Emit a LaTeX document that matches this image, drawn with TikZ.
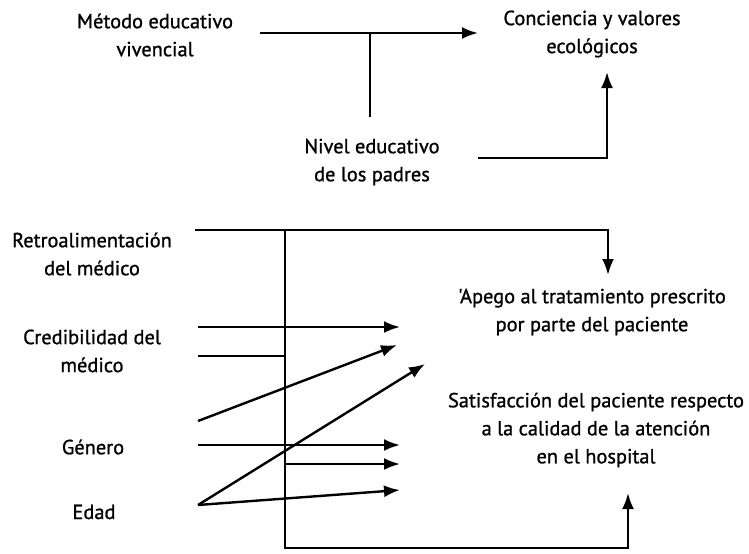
\documentclass[tikz,border=0pt]{standalone}
\usepackage{fontspec}
\newfontfamily\lblfont{PT Sans}[FakeBold=1]
\usetikzlibrary{arrows.meta}
\begin{document}
\begin{tikzpicture}[x=0.75pt,y=-0.75pt,
  lbl/.style={align=center,font=\lblfont\fontsize{15.3pt}{21pt}\selectfont,inner sep=0pt},
  ln/.style={line width=1.8pt},
  ar/.style={line width=1.8pt,-{Latex[length=12pt,width=9pt]}}]
\useasboundingbox (0,0) rectangle (749,553);
% labels
\node[lbl] (metodo) at (155,35) {Método educativo\\vivencial};
\node[lbl] (conc) at (592,34) {Conciencia y valores\\ecológicos};
\node[lbl] (nivel) at (372,162) {Nivel educativo\\de los padres};
\node[lbl] (retro) at (92,254) {Retroalimentación\\del médico};
\node[lbl] (cred) at (92,351) {Credibilidad del\\médico};
\node[lbl] (gen) at (93,447) {Género};
\node[lbl] (edad) at (94,512) {Edad};
\node[lbl] (apego) at (592,312) {'Apego al tratamiento prescrito\\por parte del paciente};
\node[lbl] (satis) at (596,430) {Satisfacción del paciente respecto\\a la calidad de la atención\\en el hospital};
% coordinates
\coordinate (a1) at (260,33); \coordinate (a2) at (478,33);
\coordinate (v1) at (370,33); \coordinate (v2) at (370,117);
\coordinate (n1) at (478,158); \coordinate (n2) at (607,72);
\coordinate (r1) at (195,230); \coordinate (r2) at (608,275);
\coordinate (m1) at (285,230); \coordinate (m2) at (285,548); \coordinate (m3) at (628,493);
\coordinate (c1) at (198,327); \coordinate (c2) at (400,327);
\coordinate (c3) at (198,356); \coordinate (c4) at (285,356);
\coordinate (d1) at (198,421); \coordinate (d2) at (397,345);
\coordinate (g1) at (198,445); \coordinate (g2) at (400,445);
\coordinate (h1) at (285,464); \coordinate (h2) at (400,464);
\coordinate (e0) at (198,505); \coordinate (e1) at (400,490); \coordinate (e2) at (425,364);
% connectors
\draw[ar] (a1) -- (a2);
\draw[ln] (v1) -- (v2);
\draw[ar] (n1) -| (n2);
\draw[ar] (r1) -| (r2);
\draw[ar] (m1) -- (m2) -| (m3);
\draw[ar] (c1) -- (c2);
\draw[ln] (c3) -- (c4);
\draw[ar] (d1) -- (d2);
\draw[ar] (g1) -- (g2);
\draw[ar] (h1) -- (h2);
\draw[ar] (e0) -- (e1);
\draw[ar] (e0) -- (e2);
\end{tikzpicture}
\end{document}
